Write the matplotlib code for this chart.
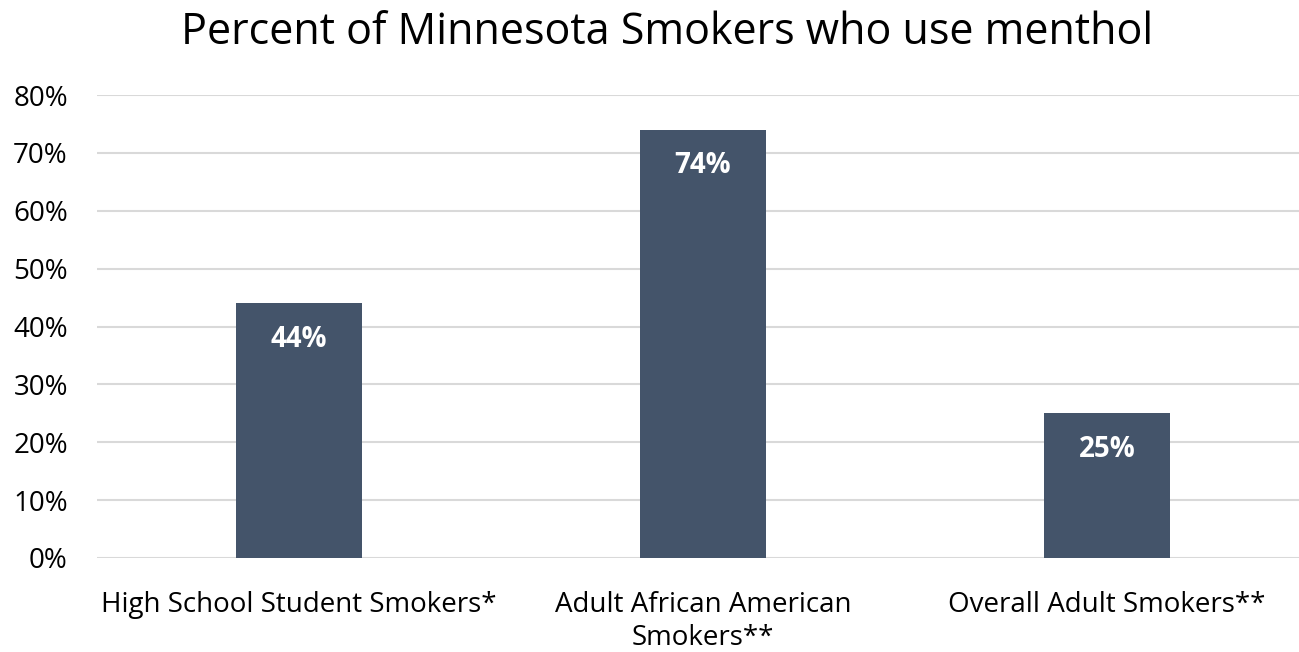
import matplotlib.pyplot as plt
import matplotlib.ticker as mticker

categories = ["High School Student Smokers*", "Adult African American\nSmokers**", "Overall Adult Smokers**"]
values = [44, 74, 25]
y_ticks = [0, 10, 20, 30, 40, 50, 60, 70, 80]

plt.rcParams['font.family'] = ['Open Sans', 'DejaVu Sans']

fig = plt.figure(figsize=(12.99, 6.52), dpi=100)
ax = fig.add_axes([97 / 1299, 94 / 652, 1212 / 1299, 463 / 652])

x = range(len(categories))
bars = ax.bar(x, values, width=0.31, color='#44546A', zorder=3)

# value labels sit inside the top of each bar
for xi, v in zip(x, values):
    ax.annotate(f"{v}%", (xi, v), xytext=(0, -26), textcoords='offset points',
                ha='center', va='center', color='white', fontsize=20, fontweight='bold')

ax.set_xlim(-0.5, 2.5)
ax.set_ylim(0, 80)
ax.set_yticks(y_ticks)
ax.yaxis.set_major_formatter(mticker.FuncFormatter(lambda v, p: f"{int(v)}%"))
ax.set_xticks(list(x))
ax.set_xticklabels(categories)
ax.tick_params(axis='y', length=0, pad=21, labelsize=20, labelcolor='black')
ax.tick_params(axis='x', length=0, pad=24, labelsize=20, labelcolor='black')
ax.grid(axis='y', color='#d9d9d9', linewidth=1.5, zorder=0)
for s in ax.spines.values():
    s.set_visible(False)

fig.text(667 / 1299, 1 - 33 / 652, "Percent of Minnesota Smokers who use menthol",
         ha='center', va='center', fontsize=31, color='black')

fig.savefig("out.png", dpi=100)
